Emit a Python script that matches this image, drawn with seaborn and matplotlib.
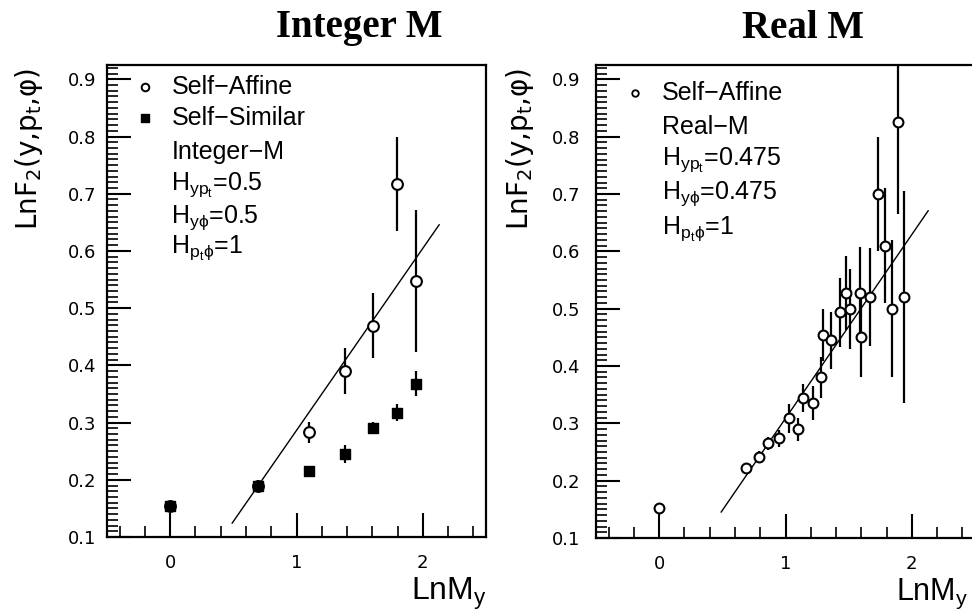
import numpy as np
import pandas as pd
import matplotlib
matplotlib.use("Agg")
import matplotlib.pyplot as plt
import seaborn as sns
from matplotlib.ticker import MultipleLocator

sns.set_style("white")
plt.rcParams['font.family'] = ['DejaVu Sans']
plt.rcParams['mathtext.default'] = 'regular'

# ---------------- data ----------------
# Left panel: Integer M
lnM_int = [0.0, 0.693, 1.099, 1.386, 1.609, 1.792, 1.946]
affine_int_y = [0.155, 0.19, 0.283, 0.39, 0.469, 0.717, 0.547]
affine_int_err = [0.005, 0.01, 0.018, 0.04, 0.057, 0.083, 0.124]
similar_int_y = [0.155, 0.19, 0.216, 0.245, 0.291, 0.317, 0.368]
similar_int_err = [0.006, 0.008, 0.006, 0.015, 0.01, 0.015, 0.022]
fit_int_x = [0.49, 2.13]
fit_int_y = [0.124, 0.646]

# Right panel: Real M
lnM_real = [0.0, 0.69, 0.79, 0.86, 0.95, 1.03, 1.10, 1.14, 1.22, 1.28, 1.30, 1.36,
            1.43, 1.48, 1.51, 1.59, 1.60, 1.67, 1.73, 1.79, 1.84, 1.89, 1.94]
affine_real_y = [0.152, 0.222, 0.241, 0.265, 0.274, 0.309, 0.29, 0.344, 0.335, 0.38, 0.454, 0.445,
                 0.494, 0.527, 0.50, 0.527, 0.45, 0.52, 0.70, 0.61, 0.50, 0.825, 0.52]
affine_real_err = [0.005, 0.008, 0.01, 0.012, 0.015, 0.025, 0.02, 0.025, 0.03, 0.035, 0.045, 0.05,
                   0.06, 0.065, 0.07, 0.08, 0.07, 0.085, 0.10, 0.10, 0.12, 0.16, 0.185]
fit_real_x = [0.49, 2.13]
fit_real_y = [0.145, 0.671]

yticks = [0.1, 0.2, 0.3, 0.4, 0.5, 0.6, 0.7, 0.8, 0.9]
ytick_labels = ["0.1", "0.2", "0.3", "0.4", "0.5", "0.6", "0.7", "0.8", "0.9"]
xticks = [0, 1, 2]
xtick_labels = ["0", "1", "2"]

left_legend = ["Self\u2212Affine", "Self\u2212Similar", "Integer\u2212M",
               r"H$_{yp_t}$=0.5", r"H$_{y\phi}$=0.5", r"H$_{p_t\phi}$=1"]
right_legend = ["Self\u2212Affine", "Real\u2212M",
                r"H$_{yp_t}$=0.475", r"H$_{y\phi}$=0.475", r"H$_{p_t\phi}$=1"]
titles = ["Integer M", "Real M"]
ylabel = "LnF$_2$(y,p$_t$,\u03c6)"
xlabel = "LnM$_y$"

# ---------------- figure ----------------
W, H = 972, 613
fig = plt.figure(figsize=(W / 100, H / 100), dpi=100)
fig.patch.set_facecolor("white")

def px(x, y):
    return x / W, 1 - y / H

axL = fig.add_axes([107 / W, 1 - 537 / H, 379 / W, 472 / H])
axR = fig.add_axes([596 / W, 1 - 538 / H, 379 / W, 473 / H])

def style_axes(ax, pad_y):
    ax.set_xlim(-0.5, 2.5)
    ax.set_ylim(0.1, 0.925)
    for s in ax.spines.values():
        s.set_linewidth(1.6)
        s.set_color("black")
    ax.set_yticks(yticks)
    ax.set_yticklabels(ytick_labels)
    ax.set_xticks(xticks)
    ax.set_xticklabels(xtick_labels)
    ax.yaxis.set_minor_locator(MultipleLocator(0.01))
    ax.xaxis.set_minor_locator(MultipleLocator(0.2))
    ax.tick_params(which="major", direction="in", length=17, width=1.5,
                   bottom=True, left=True, top=False, right=False,
                   labelsize=13, colors="black")
    ax.tick_params(which="minor", direction="in", length=8, width=1.2,
                   bottom=True, left=True, top=False, right=False, colors="black")
    ax.tick_params(axis="x", which="major", pad=12)
    ax.tick_params(axis="y", which="major", pad=pad_y)
    ax.set_xlabel("")
    ax.set_ylabel("")
    ax.set_facecolor("white")

# Left panel
dfA = pd.DataFrame({"x": lnM_int, "y": affine_int_y, "e": affine_int_err})
dfS = pd.DataFrame({"x": lnM_int, "y": similar_int_y, "e": similar_int_err})
axL.vlines(dfA["x"], dfA["y"] - dfA["e"], dfA["y"] + dfA["e"], color="black", lw=1.6, zorder=2)
axL.vlines(dfS["x"], dfS["y"] - dfS["e"], dfS["y"] + dfS["e"], color="black", lw=1.6, zorder=2)
sns.lineplot(x=fit_int_x, y=fit_int_y, ax=axL, color="black", lw=1.0, zorder=2)
sns.scatterplot(data=dfA, x="x", y="y", ax=axL, marker="o", s=60,
                facecolor="white", edgecolor="black", linewidth=1.5, zorder=3)
sns.scatterplot(data=dfS, x="x", y="y", ax=axL, marker="s", s=60,
                color="black", edgecolor="black", linewidth=1.0, zorder=4)
style_axes(axL, 8)

# Right panel
dfR = pd.DataFrame({"x": lnM_real, "y": affine_real_y, "e": affine_real_err})
axR.vlines(dfR["x"], dfR["y"] - dfR["e"], dfR["y"] + dfR["e"], color="black", lw=1.6, zorder=2)
sns.lineplot(x=fit_real_x, y=fit_real_y, ax=axR, color="black", lw=1.0, zorder=2)
sns.scatterplot(data=dfR, x="x", y="y", ax=axR, marker="o", s=50,
                facecolor="white", edgecolor="black", linewidth=1.5, zorder=3)
style_axes(axR, 11)

# Legends (text blocks inside axes)
tfont = dict(family="Liberation Sans", size=18, color="black")
legL_y = [0.953, 0.888, 0.816, 0.746, 0.676, 0.612]
axL.scatter([0.10], [legL_y[0]], transform=axL.transAxes, marker="o", s=30,
            facecolor="white", edgecolor="black", linewidth=1.4, zorder=5)
axL.scatter([0.10], [legL_y[1]], transform=axL.transAxes, marker="s", s=40,
            color="black", zorder=5)
for t, yy in zip(left_legend, legL_y):
    axL.text(0.17, yy, t, transform=axL.transAxes, va="center", ha="left", **tfont)

legR_y = [0.941, 0.869, 0.799, 0.729, 0.655]
axR.scatter([0.103], [legR_y[0]], transform=axR.transAxes, marker="o", s=22,
            facecolor="white", edgecolor="black", linewidth=1.3, zorder=5)
for t, yy in zip(right_legend, legR_y):
    axR.text(0.174, yy, t, transform=axR.transAxes, va="center", ha="left", **tfont)

# Titles
for t, xc in zip(titles, [359, 803]):
    x, y = px(xc, 28)
    fig.text(x, y, t, ha="center", va="center", family="Liberation Serif",
             weight="bold", size=28, color="black")

# Y labels
for xc in [29, 520]:
    x, y = px(xc, 68)
    fig.text(x, y, ylabel, rotation=90, ha="center", va="top",
             family="DejaVu Sans", size=20, color="black")

# X labels
x, y = px(487, 600)
fig.text(x, y, xlabel, ha="right", va="baseline", family="Liberation Sans",
         size=23, color="black")
x, y = px(896, 600)
fig.text(x, y, xlabel, ha="left", va="baseline", family="Liberation Sans",
         size=22, color="black")

fig.savefig("out.png", dpi=100, facecolor="white")
